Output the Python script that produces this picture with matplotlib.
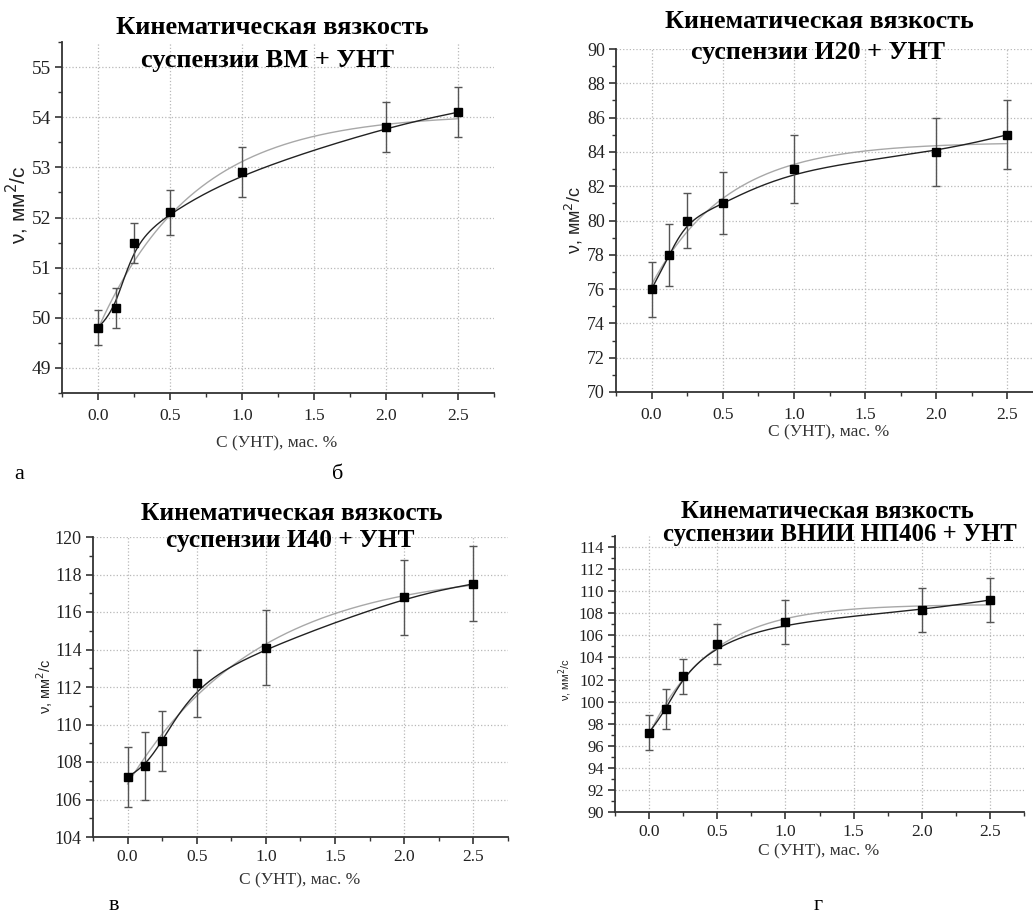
import numpy as np
import matplotlib
matplotlib.use('Agg')
import matplotlib.pyplot as plt
from matplotlib.ticker import MultipleLocator, FormatStrFormatter

plt.rcParams['font.family'] = ['Liberation Serif', 'DejaVu Serif']

W, H = 1033, 918

# concentration of carbon nanotubes, mass %
conc = [0.0, 0.125, 0.25, 0.5, 1.0, 2.0, 2.5]

# kinematic viscosity, mm2/s, and error bars
visc_vm = [49.8, 50.2, 51.5, 52.1, 52.9, 53.8, 54.1]
err_vm = [0.35, 0.4, 0.4, 0.45, 0.5, 0.5, 0.5]

visc_i20 = [76.0, 78.0, 80.0, 81.0, 83.0, 84.0, 85.0]
err_i20 = [1.6, 1.8, 1.6, 1.8, 2.0, 2.0, 2.0]

visc_i40 = [107.2, 107.8, 109.1, 112.2, 114.1, 116.8, 117.5]
err_i40 = [1.6, 1.8, 1.6, 1.8, 2.0, 2.0, 2.0]

visc_np406 = [97.2, 99.3, 102.3, 105.2, 107.2, 108.3, 109.2]
err_np406 = [1.6, 1.8, 1.6, 1.8, 2.0, 2.0, 2.0]

title_line1 = 'Кинематическая вязкость'
titles_line2 = ['суспензии ВМ + УНТ', 'суспензии И20 + УНТ',
                'суспензии И40 + УНТ', 'суспензии ВНИИ НП406 + УНТ']
panel_letters = ['а', 'б', 'в', 'г']


def px(x, y):
    return x / W, 1 - y / H


def bspline(x, y, n=40):
    # clamped uniform cubic B-spline with the data points as control points
    P = np.column_stack([x, y]).astype(float)
    P = np.vstack([P[:1], P[:1], P, P[-1:], P[-1:]])
    t = np.linspace(0, 1, n)[:, None]
    b0 = (1 - t) ** 3 / 6
    b1 = (3 * t ** 3 - 6 * t ** 2 + 4) / 6
    b2 = (-3 * t ** 3 + 3 * t ** 2 + 3 * t + 1) / 6
    b3 = t ** 3 / 6
    segs = [b0 * P[i] + b1 * P[i + 1] + b2 * P[i + 2] + b3 * P[i + 3] for i in range(len(P) - 3)]
    c = np.vstack(segs)
    return c[:, 0], c[:, 1]


def exp_fit(x, y, xs):
    # y = A - B * exp(-x / t), least squares
    x = np.asarray(x, float)
    y = np.asarray(y, float)
    best = None
    for tau in np.linspace(0.05, 3.0, 600):
        M = np.column_stack([np.ones_like(x), -np.exp(-x / tau)])
        coef = np.linalg.lstsq(M, y, rcond=None)[0]
        r = np.sum((M @ coef - y) ** 2)
        if best is None or r < best[0]:
            best = (r, tau, coef)
    _, tau, (a, b) = best
    return a - b * np.exp(-xs / tau)


panels = [
    dict(y=visc_vm, err=err_vm, box=(62, 42, 494, 393), ylim=(48.5, 55.5), major=1, minor=0.5,
         t1=(272, 28), t2=(268, 60), tsize=19, xl=(277, 443), yl=(17, 205), ylsize=15,
         ysize=14, xpad=6, letter=(19, 474)),
    dict(y=visc_i20, err=err_i20, box=(616, 49, 1043, 392), ylim=(70, 90), major=2, minor=1,
         t1=(819, 22), t2=(818, 53), tsize=18.7, xl=(829, 432), yl=(574, 220), ylsize=13,
         ysize=13, xpad=6, letter=(338, 474)),
    dict(y=visc_i40, err=err_i40, box=(93, 537, 508, 837), ylim=(104, 120), major=2, minor=1,
         t1=(292, 513), t2=(290, 541), tsize=18.3, xl=(300, 880), yl=(45, 686), ylsize=10.5,
         ysize=13, xpad=3.5, letter=(114, 906)),
    dict(y=visc_np406, err=err_np406, box=(615, 536, 1024, 812), ylim=(90, 115), major=2, minor=1,
         t1=(827, 512), t2=(840, 535), tsize=17.8, xl=(819, 851), yl=(565, 680), ylsize=8,
         ysize=12, xpad=3.5, letter=(818, 906)),
]

fig = plt.figure(figsize=(W / 100, H / 100), dpi=100)
xs = np.linspace(0, 2.5, 300)

for i, p in enumerate(panels):
    x0, y0, x1, y1 = p['box']
    ax = fig.add_axes([x0 / W, 1 - y1 / H, (x1 - x0) / W, (y1 - y0) / H])
    ax.set_xlim(-0.25, 2.75)
    ax.set_ylim(*p['ylim'])
    ax.xaxis.set_major_locator(MultipleLocator(0.5))
    ax.xaxis.set_minor_locator(MultipleLocator(0.25))
    ax.yaxis.set_major_locator(MultipleLocator(p['major']))
    ax.yaxis.set_minor_locator(MultipleLocator(p['minor']))
    ax.xaxis.set_major_formatter(FormatStrFormatter('%.1f'))
    ax.yaxis.set_major_formatter(FormatStrFormatter('%d'))
    ax.grid(True, which='major', linestyle=':', color='#b8b8b8', linewidth=0.9)
    ax.set_axisbelow(True)
    for s in ['top', 'right']:
        ax.spines[s].set_visible(False)
    for s in ['left', 'bottom']:
        ax.spines[s].set_color('#333333')
        ax.spines[s].set_linewidth(1.3)
    ax.tick_params(which='major', length=5, width=1.2, color='#333333', direction='out')
    ax.tick_params(which='minor', length=3, width=1.0, color='#333333', direction='out')
    ax.tick_params(axis='x', pad=p['xpad'], labelsize=12.5, labelcolor='#222222')
    ax.tick_params(axis='y', pad=3, labelsize=p['ysize'], labelcolor='#222222')

    ax.plot(xs, exp_fit(conc, p['y'], xs), color='#a8a8a8', linewidth=1.0, zorder=2)
    bx, by = bspline(conc, p['y'])
    ax.plot(bx, by, color='#222222', linewidth=1.0, zorder=3)
    ax.errorbar(conc, p['y'], yerr=p['err'], fmt='none', ecolor='#555555',
                elinewidth=1.0, capsize=3, capthick=1.0, zorder=4)
    ax.plot(conc, p['y'], 's', color='black', markersize=6, zorder=5)

    fig.text(*px(*p['t1']), title_line1, ha='center', va='center', fontsize=p['tsize'],
             fontweight='bold')
    fig.text(*px(*p['t2']), titles_line2[i], ha='center', va='center', fontsize=p['tsize'],
             fontweight='bold')
    fig.text(*px(*p['xl']), 'C (УНТ), мас. %', ha='center', va='center', fontsize=12.5,
             color='#333333')
    fig.text(*px(*p['yl']), 'ν, мм$^2$/с', ha='center', va='center', fontsize=p['ylsize'],
             family=['Liberation Sans', 'DejaVu Sans'], rotation=90, color='#222222')
    fig.text(*px(*p['letter']), panel_letters[i], ha='center', va='center', fontsize=16)

fig.savefig('out.png', dpi=100)
